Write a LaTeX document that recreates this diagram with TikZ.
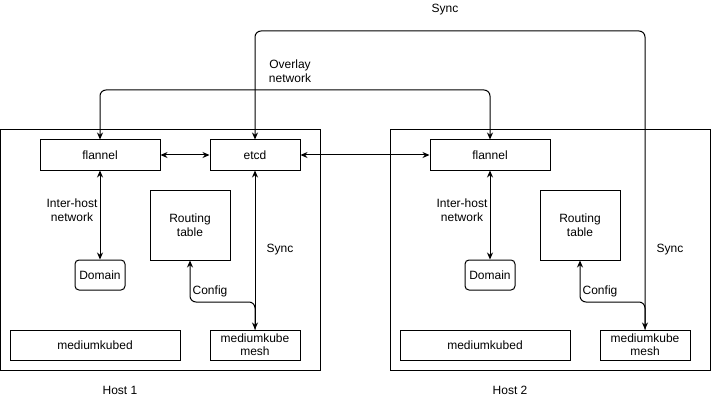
\documentclass[tikz,border=0pt]{standalone}
\usepackage{fontspec}
\setmainfont{Liberation Sans}
\usetikzlibrary{arrows.meta}
\tikzset{mytip/.tip={Stealth[length=7pt,width=6pt]}}
\begin{document}
\begin{tikzpicture}[x=1pt,y=-1pt,
  every node/.style={font=\fontsize{12}{14}\selectfont, inner sep=0pt, align=center},
  box/.style={draw, line width=1pt, fill=white},
  lbl/.style={fill=white, inner sep=1pt},
  conn/.style={line width=1pt, rounded corners=6pt}
]
\useasboundingbox (0,0) rectangle (712,401);
% hosts
\node[box, minimum width=320pt, minimum height=240pt] (h1) at (160.5,250) {};
\node[box, minimum width=320pt, minimum height=240pt] (h2) at (550,250) {};
\node (h1l) at (120,390) {Host 1};
\node (h2l) at (510,390) {Host 2};
% host 1
\node[box, minimum width=120pt, minimum height=30pt] (fl1) at (100,155) {flannel};
\node[box, minimum width=90pt, minimum height=30pt] (etcd1) at (255,155) {etcd};
\node[box, minimum width=80pt, minimum height=70pt] (rt1) at (190,225) {Routing\\table};
\node[box, rounded corners=4pt, minimum width=50pt, minimum height=30pt] (dom1) at (100,275) {Domain};
\node[box, minimum width=170pt, minimum height=30pt] (mk1) at (95,345) {mediumkubed};
\node[box, minimum width=90pt, minimum height=30pt, font=\fontsize{12}{13}\selectfont] (mesh1) at (255,345) {mediumkube\\mesh};
% host 2
\node[box, minimum width=120pt, minimum height=30pt] (fl2) at (490,155) {flannel};
\node[box, minimum width=80pt, minimum height=70pt] (rt2) at (580,225) {Routing\\table};
\node[box, rounded corners=4pt, minimum width=50pt, minimum height=30pt] (dom2) at (490,275) {Domain};
\node[box, minimum width=170pt, minimum height=30pt] (mk2) at (485,345) {mediumkubed};
\node[box, minimum width=90pt, minimum height=30pt, font=\fontsize{12}{13}\selectfont] (mesh2) at (645,345) {mediumkube\\mesh};
% coordinates
\coordinate (ov) at (290,90);
\coordinate (sy) at (450,31);
\coordinate (cf1) at (190,302);
\coordinate (cf2) at (580,302);
% connectors
\draw[conn, {mytip}-{mytip}] (fl1.east) -- (etcd1.west);
\draw[conn, {mytip}-{mytip}] (etcd1.east) -- (fl2.west);
\draw[conn, {mytip}-{mytip}] (fl1.south) -- (dom1.north);
\draw[conn, {mytip}-{mytip}] (fl2.south) -- (dom2.north);
\draw[conn, {mytip}-{mytip}] (etcd1.south) -- (mesh1.north);
\draw[conn, -{mytip}] (mesh1.north) |- (cf1) -- (rt1.south);
\draw[conn, -{mytip}] (mesh2.north) |- (cf2) -- (rt2.south);
\draw[conn, {mytip}-{mytip}] (fl1.north) |- (ov) -| (fl2.north);
\draw[conn, {mytip}-{mytip}] (etcd1.north) |- (sy) -| (mesh2.north);
% labels
\node (ovl) at (290,71) {Overlay\\network};
\node (syl) at (445,10) {Sync};
\node[lbl] (ih1) at (72,210) {Inter-host\\network};
\node[lbl] (ih2) at (462,210) {Inter-host\\network};
\node (s1) at (280,250) {Sync};
\node (s2) at (670,250) {Sync};
\node (c1) at (210,291) {Config};
\node (c2) at (600,291) {Config};
\end{tikzpicture}
\end{document}
